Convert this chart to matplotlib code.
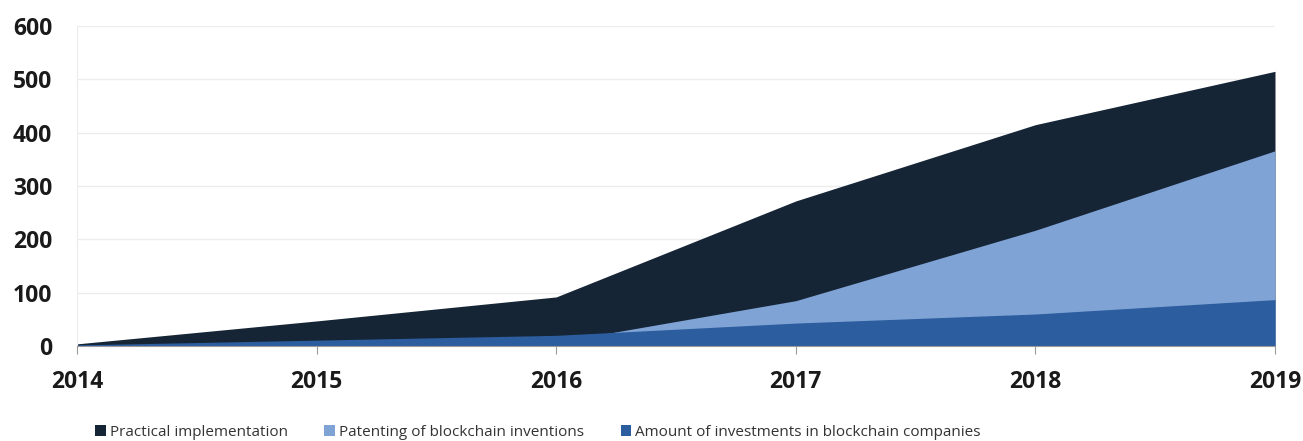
import matplotlib.pyplot as plt
from matplotlib.patches import Patch

# data (overlapping areas, not stacked)
years = [2014, 2015, 2016, 2017, 2018, 2019]
practical = [4, 47, 92, 272, 415, 515]
patents = [1, 3, 7, 85, 217, 366]
investments = [2, 11, 20, 43, 60, 87]

labels = ['Practical implementation',
          'Patenting of blockchain inventions',
          'Amount of investments in blockchain companies']
colors = ['#162535', '#80a3d6', '#2c5d9e']

plt.rcParams['font.family'] = ['Open Sans', 'DejaVu Sans']

W, H = 1303, 441
fig = plt.figure(figsize=(W / 100, H / 100), dpi=100)
ax = fig.add_axes([77 / W, 1 - 346 / H, (1275 - 77) / W, 320 / H])

# draw back to front
for vals, c in zip([practical, patents, investments], colors):
    ax.fill_between(years, 0, vals, color=c, linewidth=0, zorder=2)

ax.set_xlim(2014, 2019)
ax.set_ylim(0, 600)
ax.set_yticks(range(0, 601, 100))
ax.set_xticks(years)

ax.grid(axis='y', color='#ececec', linewidth=1, zorder=0)
for s in ['top', 'right']:
    ax.spines[s].set_visible(False)
ax.spines['left'].set_color('#ececec')
ax.spines['bottom'].set_color('#999999')
ax.spines['bottom'].set_zorder(3)

ax.tick_params(axis='y', length=0, pad=18, labelsize=16.5)
ax.tick_params(axis='x', length=6, color='#999999', pad=11, labelsize=16.5)
for lab in ax.get_xticklabels() + ax.get_yticklabels():
    lab.set_fontweight('bold')
    lab.set_color('#1a1a1a')

# legend sits at the very bottom edge (kept just inside the canvas)
handles = [Patch(facecolor=c, edgecolor='none') for c in colors]
fig.legend(handles, labels, loc='upper left', bbox_to_anchor=(95 / W, 1 - 425 / H),
           ncol=3, frameon=False, fontsize=11, handlelength=0.7, handleheight=0.7,
           handletextpad=0.26, columnspacing=2.4, borderpad=0, borderaxespad=0,
           labelcolor='#333333')

fig.savefig('out.png', dpi=100)
